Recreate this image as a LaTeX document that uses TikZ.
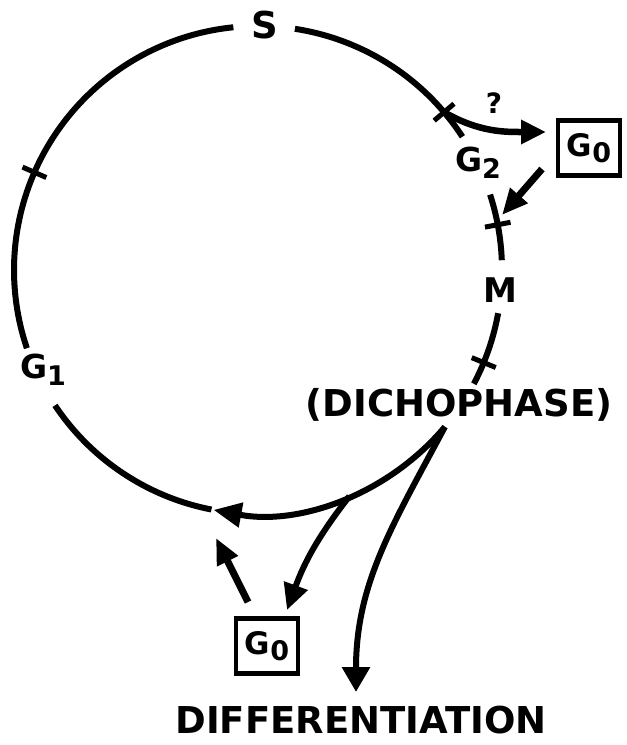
\documentclass[tikz,border=0pt]{standalone}
\usepackage{fontspec}
\setmainfont{DejaVu Sans}
\usetikzlibrary{arrows.meta}
\begin{document}
\begin{tikzpicture}[x=1pt,y=1pt,
  cyc/.style={line width=6pt},
  tickmark/.style={line width=5pt},
  arr/.style={line width=7pt,-{Triangle[length=26pt,width=22pt]}},
  lbl/.style={font=\fontsize{37}{40}\selectfont\bfseries, inner sep=0pt},
  glbl/.style={font=\fontsize{33}{34}\selectfont\bfseries, inner sep=0pt},
  qlbl/.style={font=\fontsize{28}{30}\selectfont\bfseries, inner sep=0pt},
  gbox/.style={draw, line width=4.5pt, minimum width=62pt, minimum height=55pt, inner sep=0pt, font=\fontsize{31}{32}\selectfont\bfseries},
]
\useasboundingbox (0,0) rectangle (627,-745);
\coordinate (O) at (258,-270);
% labels
\node[lbl] (S) at (265,-25) {S};
\node[glbl] (G1) at (43,-370) {G\raisebox{-7pt}{\fontsize{27}{27}\selectfont 1}};
\node[glbl] (G2) at (478,-163) {G\raisebox{-7pt}{\fontsize{27}{27}\selectfont 2}};
\node[lbl,font=\fontsize{34}{36}\selectfont\bfseries] (M) at (500,-290) {M};
\node[lbl] (D) at (459,-405) {(DICHOPHASE)};
\node[lbl] (DIF) at (361,-720) {DIFFERENTIATION};
\node[qlbl] (q) at (494,-103) {?};
\node[gbox] (g0top) at (589,-148) {G\raisebox{-6pt}{\fontsize{27}{27}\selectfont 0}};
\node[gbox] (g0low) at (267,-646) {G\raisebox{-6pt}{\fontsize{27}{27}\selectfont 0}};
% circle points
\path (O) ++(95.8:244) coordinate (sL);
\path (O) ++(81.3:244) coordinate (sR);
\path (O) ++(40.3:244) coordinate (t2);
\path (O) ++(18:244) coordinate (g2s);
\path (O) ++(-10.2:244) coordinate (ms);
\path (O) ++(213.7:244) coordinate (g1s);
\path (O) ++(-40:244) coordinate (dich);
\path (O) ++(-68:244) coordinate (bp);
% cycle arcs
\draw[cyc] (sL) arc[start angle=95.8, end angle=198.7, radius=244];
\draw[cyc] (sR) arc[start angle=81.3, end angle=33.1, radius=244];
\draw[cyc] (g2s) arc[start angle=18, end angle=2.3, radius=244];
\draw[cyc] (ms) arc[start angle=-10.2, end angle=-27.8, radius=244];
\draw[cyc] (g1s) arc[start angle=213.7, end angle=259, radius=244];
\draw[cyc,-{Triangle[length=28pt,width=24pt]}] (dich) arc[start angle=-40, end angle=-100.5, radius=244];
% ticks
\foreach \a/\n in {156.4/tkA, 40.3/tkB, 10.7/tkC, -22.3/tkD}{
  \draw[tickmark] (O) ++(\a:231) coordinate (\n) -- ++(\a:26);
}
% arrows
\coordinate (g0in) at (546,-132);
\draw[line width=6.5pt,-{Triangle[length=25pt,width=23pt]}] (t2) to[out=-30,in=180] (g0in);
\coordinate (g0out) at (542,-169);
\coordinate (g2in) at (502,-215);
\draw[arr] (g0out) -- (g2in);
\coordinate (lowout) at (248,-602);
\coordinate (lowin) at (216,-538);
\draw[arr] (lowout) -- (lowin);
\coordinate (lowtip) at (287,-610);
\draw[line width=6pt,-{Triangle[length=26pt,width=24pt]}] (bp) to[out=-128,in=70] (lowtip);
\coordinate (diftip) at (356,-692);
\draw[line width=6pt,-{Triangle[length=25pt,width=27pt]}] (dich) to[out=-118,in=90] (diftip);
\end{tikzpicture}
\end{document}
